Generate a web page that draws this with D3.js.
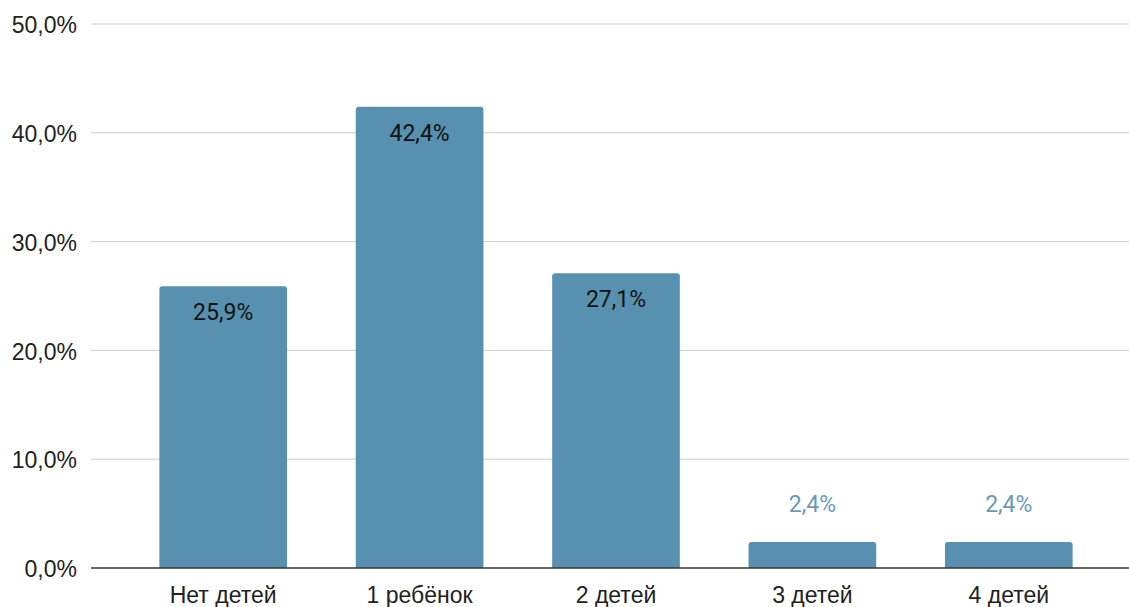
<!DOCTYPE html>
<html>
<head>
<meta charset="utf-8">
<script src="https://cdn.jsdelivr.net/npm/d3@7"></script>
<style>
  html, body { margin: 0; padding: 0; background: #fff; }
  svg { display: block; }
</style>
</head>
<body>
<svg id="chart" width="1129" height="607"></svg>
<script>
// Number of children
const categories = ["Нет детей", "1 ребёнок", "2 детей", "3 детей", "4 детей"];
const shares = [25.9, 42.4, 27.1, 2.4, 2.4];
const yTicks = [0, 10, 20, 30, 40, 50];

const width = 1129, height = 607;
const gridLeft = 91, gridRight = 1129;
const svg = d3.select("#chart");

const y = d3.scaleLinear().domain([0, 50]).range([568, 24]);
const x = d3.scaleBand().domain(categories).range([125, 1107]).paddingInner(0.35).paddingOuter(0.175);

const fmt = v => d3.format(".1f")(v).replace(".", ",") + "%";

// horizontal gridlines
svg.append("g")
  .selectAll("line")
  .data(yTicks.filter(t => t > 0))
  .join("line")
  .attr("x1", gridLeft).attr("x2", gridRight)
  .attr("y1", d => y(d)).attr("y2", d => y(d))
  .attr("stroke", "#cccccc").attr("stroke-width", 1);

// y-axis tick labels
const yAxis = d3.axisLeft(y).tickValues(yTicks).tickFormat(fmt).tickSize(0).tickPadding(0);
const yg = svg.append("g").attr("transform", "translate(77,0)").call(yAxis);
yg.select(".domain").remove();
yg.selectAll("text")
  .attr("font-family", "'Liberation Sans', Arial, sans-serif")
  .attr("font-size", 23)
  .attr("fill", "#222")
  .attr("dy", "0.38em");

// bars with slightly rounded top corners
const r = 3;
svg.append("g")
  .selectAll("path")
  .data(shares)
  .join("path")
  .attr("fill", "#5891af")
  .attr("d", (d, i) => {
    const x0 = x(categories[i]), w = x.bandwidth();
    const y0 = y(d), yb = y(0);
    return `M${x0},${yb}V${y0 + r}Q${x0},${y0} ${x0 + r},${y0}H${x0 + w - r}Q${x0 + w},${y0} ${x0 + w},${y0 + r}V${yb}Z`;
  });

// baseline
svg.append("line")
  .attr("x1", gridLeft).attr("x2", gridRight)
  .attr("y1", y(0)).attr("y2", y(0))
  .attr("stroke", "#333").attr("stroke-width", 1.5);

// x-axis category labels
const xAxis = d3.axisBottom(x).tickSize(0).tickPadding(0);
const xg = svg.append("g").attr("transform", `translate(0,${y(0)})`).call(xAxis);
xg.select(".domain").remove();
xg.selectAll("text")
  .attr("font-family", "'Liberation Sans', Arial, sans-serif")
  .attr("font-size", 23)
  .attr("fill", "#222")
  .attr("y", 35)
  .attr("dy", 0);

// value labels: inside tall bars, above short ones
svg.append("g")
  .selectAll("text")
  .data(shares)
  .join("text")
  .attr("x", (d, i) => x(categories[i]) + x.bandwidth() / 2)
  .attr("y", d => d > 10 ? y(d) + 34 : y(d) - 30)
  .attr("text-anchor", "middle")
  .attr("font-family", "Roboto, sans-serif")
  .attr("font-size", 23)
  .attr("fill", d => d > 10 ? "#111" : "#6a9ab6")
  .text(fmt);
</script>
</body>
</html>
